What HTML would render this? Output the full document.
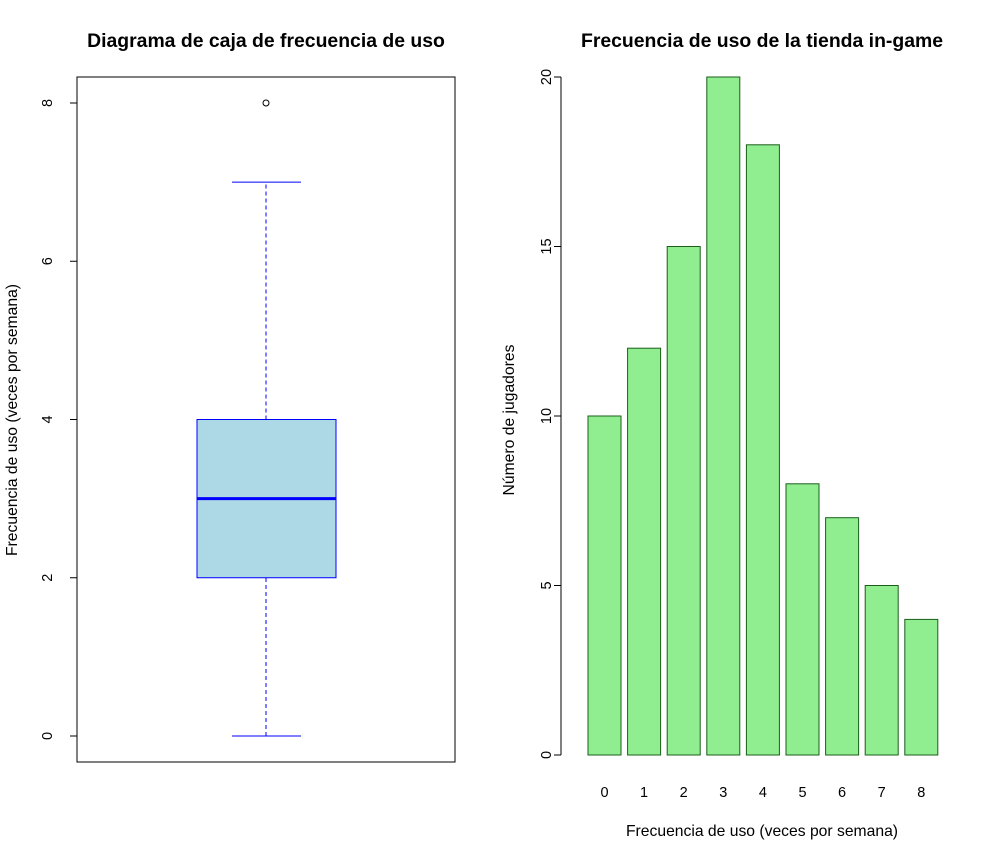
<!DOCTYPE html>
<html><head><meta charset="utf-8"><style>
body{margin:0;background:#fff}
svg{display:block;font-family:"Liberation Sans",Arial,sans-serif}
</style></head><body>
<svg id="c" width="982" height="851" viewBox="0 0 982 851"></svg>
<script>
const boxStats = [0, 2, 3, 4, 7];
const outliers = [8];
const boxTicks = [0, 2, 4, 6, 8];
const barCategories = ["0","1","2","3","4","5","6","7","8"];
const barValues = [10, 12, 15, 20, 18, 8, 7, 5, 4];
const barTicks = [0, 5, 10, 15, 20];

const svg = document.getElementById('c');
const NS = 'http://www.w3.org/2000/svg';
function mk(tag, attrs, parent, text){
  const e = document.createElementNS(NS, tag);
  for (const k in attrs) e.setAttribute(k, attrs[k]);
  if (text !== undefined) e.textContent = text;
  (parent || svg).appendChild(e);
  return e;
}

// ---- Left: boxplot ----
const yL = v => 736 - v * (736 - 103) / 8;
const gL = mk('g', {});


const t1 = mk('text', {x:266, y:47, 'text-anchor':'middle', 'font-size':19.4, 'font-weight':'bold'}, gL, 'Diagrama de caja de frecuencia de uso');


const fr = mk('rect', {x:77, y:77, width:378, height:685, fill:'none', stroke:'#000'}, gL);


const axL = mk('g', {}, gL);


mk('line', {x1:77, x2:77, y1:yL(boxTicks[0]), y2:yL(boxTicks[boxTicks.length-1]), stroke:'#000'}, axL);
boxTicks.forEach(t => {
  mk('line', {x1:70, x2:77, y1:yL(t), y2:yL(t), stroke:'#000'}, axL);
  const lb = mk('text', {x:52, y:yL(t), 'text-anchor':'middle', 'font-size':14.5, transform:`rotate(-90 52 ${yL(t)})`}, axL, String(t));
  
  
});
const ytl = mk('text', {x:17, y:420, 'text-anchor':'middle', 'font-size':15.7, transform:'rotate(-90 17 420)'}, gL, 'Frecuencia de uso (veces por semana)');


const cx = 266, bx0 = 197, bx1 = 336;
const wh = mk('line', {x1:cx, x2:cx, y1:yL(boxStats[0]), y2:yL(boxStats[1]), stroke:'blue', 'stroke-dasharray':'4,3'}, gL);


const wh2 = mk('line', {x1:cx, x2:cx, y1:yL(boxStats[3]), y2:yL(boxStats[4]), stroke:'blue', 'stroke-dasharray':'4,3'}, gL);


[boxStats[0], boxStats[4]].forEach(v => {
  const cap = mk('line', {x1:232, x2:301, y1:yL(v), y2:yL(v), stroke:'blue'}, gL);
  
  
});
const bx = mk('rect', {x:bx0, y:yL(boxStats[3]), width:bx1-bx0, height:yL(boxStats[1])-yL(boxStats[3]), fill:'lightblue', stroke:'blue'}, gL);


const md = mk('line', {x1:bx0, x2:bx1, y1:yL(boxStats[2]), y2:yL(boxStats[2]), stroke:'blue', 'stroke-width':3}, gL);


outliers.forEach(v => {
  const o = mk('circle', {cx:cx, cy:yL(v), r:3, fill:'none', stroke:'#000'}, gL);
  
  
});

// ---- Right: bar chart ----
const yR = v => 755 - v * (755 - 77) / 20;
const xR = i => 588 + i * 39.6;
const bw = 33;
const gR = mk('g', {});


const t2 = mk('text', {x:762, y:47, 'text-anchor':'middle', 'font-size':19.4, 'font-weight':'bold'}, gR, 'Frecuencia de uso de la tienda in-game');


const axR = mk('g', {}, gR);


mk('line', {x1:561, x2:561, y1:yR(barTicks[0]), y2:yR(barTicks[barTicks.length-1]), stroke:'#000'}, axR);
barTicks.forEach(t => {
  mk('line', {x1:554, x2:561, y1:yR(t), y2:yR(t), stroke:'#000'}, axR);
  const lb = mk('text', {x:551, y:yR(t), 'text-anchor':'middle', 'font-size':14.5, transform:`rotate(-90 551 ${yR(t)})`}, axR, String(t));
  
  
});
const ytr = mk('text', {x:514, y:420, 'text-anchor':'middle', 'font-size':15.7, transform:'rotate(-90 514 420)'}, gR, 'Número de jugadores');


barValues.forEach((v, i) => {
  const r = mk('rect', {x:xR(i), y:yR(v), width:bw, height:yR(0)-yR(v), fill:'lightgreen', stroke:'#1a5e1a'}, gR);
  
  
  const l = mk('text', {x:xR(i)+bw/2, y:797, 'text-anchor':'middle', 'font-size':14.5}, gR, barCategories[i]);
  
  
});
const xt = mk('text', {x:762, y:836, 'text-anchor':'middle', 'font-size':15.7}, gR, 'Frecuencia de uso (veces por semana)');


</script>
</body></html>
